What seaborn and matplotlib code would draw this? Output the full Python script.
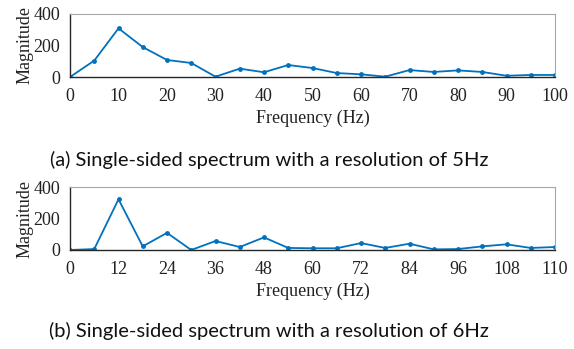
import matplotlib
matplotlib.use("Agg")
import matplotlib.pyplot as plt
import seaborn as sns
import numpy as np
import pandas as pd

# Data (a): 5 Hz resolution
freq_a = [0, 5, 10, 15, 20, 25, 30, 35, 40, 45, 50, 55, 60, 65, 70, 75, 80, 85, 90, 95, 100]
mag_a = [0, 104, 309, 190, 108, 89, 2, 53, 30, 76, 57, 25, 17, 2, 44, 32, 42, 32, 8, 13, 13]

# Data (b): 6 Hz resolution
freq_b = [0, 6, 12, 18, 24, 30, 36, 42, 48, 54, 60, 66, 72, 78, 84, 90, 96, 102, 108, 114, 120]
mag_b = [0, 6, 322, 23, 109, 0, 57, 19, 80, 13, 11, 11, 44, 13, 40, 4, 6, 23, 36, 13, 19]

ticks_a = [0, 10, 20, 30, 40, 50, 60, 70, 80, 90, 100]
ticklabels_a = ["0", "10", "20", "30", "40", "50", "60", "70", "80", "90", "100"]
ticks_b = [0, 12, 24, 36, 48, 60, 72, 84, 96, 108, 120]
ticklabels_b = ["0", "12", "24", "36", "48", "60", "72", "84", "96", "108", "110"]
yticks = [0, 200, 400]

caption_a = "(a) Single-sided spectrum with a resolution of 5Hz"
caption_b = "(b) Single-sided spectrum with a resolution of 6Hz"

sns.set_theme(style="white")
plt.rcParams['font.family'] = ['Liberation Serif', 'DejaVu Serif']

fig = plt.figure(figsize=(5.74, 3.49), dpi=100)
W, H = 574, 349

def make_ax(top_px, bottom_px):
    return fig.add_axes([70 / W, 1 - bottom_px / H, 485 / W, (bottom_px - top_px) / H])

ax1 = make_ax(14, 77)
ax2 = make_ax(187, 250)

color = "#0072BD"

for ax, fx, my, xt, xl, xmax in [(ax1, freq_a, mag_a, ticks_a, ticklabels_a, 100),
                                  (ax2, freq_b, mag_b, ticks_b, ticklabels_b, 120)]:
    df = pd.DataFrame({"Frequency": fx, "Magnitude": my})
    sns.lineplot(data=df, x="Frequency", y="Magnitude", ax=ax, color=color,
                 marker="o", markersize=3.5, markeredgewidth=0, linewidth=1.3)
    ax.set_xlim(0, xmax)
    ax.set_ylim(0, 400)
    ax.set_xticks(xt)
    ax.set_xticklabels(xl)
    ax.set_yticks(yticks)
    ax.set_yticklabels([str(t) for t in yticks])
    ax.tick_params(axis="both", length=0, labelsize=13, colors="#222222")
    ax.tick_params(axis="x", pad=8)
    ax.tick_params(axis="y", pad=7)
    ax.set_xlabel("Frequency (Hz)", fontsize=13, labelpad=3, color="#222222")
    ax.set_ylabel("Magnitude", fontsize=13, labelpad=0, color="#222222")
    for s in ["top", "right"]:
        ax.spines[s].set_color("#a6a6a6")
        ax.spines[s].set_linewidth(0.8)
    for s in ["left", "bottom"]:
        ax.spines[s].set_color("#262626")
        ax.spines[s].set_linewidth(1.0)
    ax.set_facecolor("white")

fig.text(269 / W, 1 - 160 / H, caption_a, ha="center", va="center", fontsize=14.5,
         family=["Lato", "DejaVu Sans"], color="#111111")
fig.text(269 / W, 1 - 331 / H, caption_b, ha="center", va="center", fontsize=14.5,
         family=["Lato", "DejaVu Sans"], color="#111111")

fig.savefig("out.png", dpi=100)
